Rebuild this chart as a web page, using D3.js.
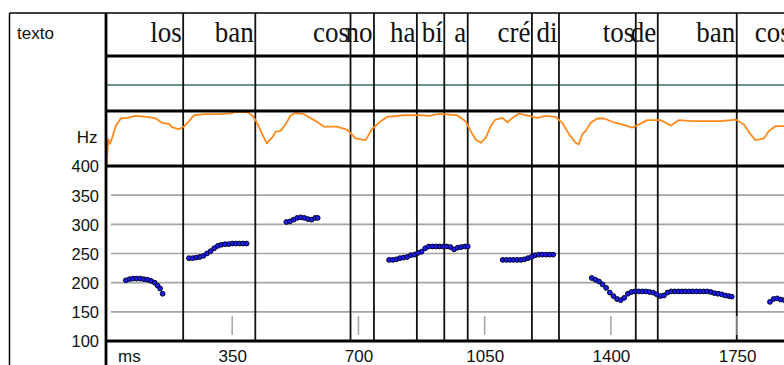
<!DOCTYPE html>
<html>
<head>
<meta charset="utf-8">
<script src="https://cdn.jsdelivr.net/npm/d3@7/dist/d3.min.js"></script>
<style>
  body { margin: 0; background: #fff; }
  svg { display: block; }
</style>
</head>
<body>
<svg id="chart" width="784" height="365"></svg>
<script>
// Syllables of the utterance and the time (ms) where each one ends
const syllables = ["los", "ban", "cos", "no", "ha", "bí", "a", "cré", "di", "tos", "de", "ban", "cos"];
const syllableEnds = [214, 414, 678, 743, 862, 938, 1003, 1181, 1256, 1469, 1530, 1749, 1903];

// Axis ticks
const hzTicks = [400, 350, 300, 250, 200, 150, 100];
const hzGrid = [350, 300, 250, 200, 150];
const msTicks = [350, 700, 1050, 1400, 1750];

// Intensity contour (relative level, 0-100)
const intensityMs = [2, 6, 11, 17, 27, 41, 58, 82, 114, 138, 155, 175, 183, 202, 216, 230, 244, 272, 318, 349,
  355, 391, 405, 419, 433, 446, 460, 470, 484, 498, 512, 526, 549, 577, 604, 641, 669, 692, 720, 738,
  762, 780, 826, 873, 896, 919, 937, 974, 997, 1011, 1025, 1039, 1053, 1067, 1080, 1099, 1113, 1127, 1145, 1164,
  1196, 1219, 1247, 1265, 1284, 1302, 1311, 1321, 1330, 1344, 1362, 1381, 1408, 1431, 1459, 1478, 1501, 1538, 1566, 1589,
  1625, 1704, 1746, 1769, 1787, 1801, 1824, 1838, 1857, 1880];
const intensityLevel = [3, 50, 41, 52, 74, 88, 89, 93, 91, 88, 80, 78, 72, 68, 73, 83, 94, 96, 96, 98,
  100, 100, 94, 80, 59, 42, 52, 63, 65, 77, 94, 98, 96, 85, 73, 73, 67, 51, 48, 69,
  83, 91, 94, 94, 93, 96, 96, 94, 83, 65, 49, 43, 52, 74, 86, 89, 81, 89, 97, 94,
  89, 93, 91, 80, 59, 43, 40, 59, 65, 80, 88, 88, 81, 77, 71, 77, 85, 85, 75, 85,
  83, 83, 86, 77, 59, 48, 51, 65, 74, 74];

// F0 measurements (Hz), one run per voiced stretch
const f0Ms1 = [55, 65, 75, 85, 95, 105, 115, 125, 135, 143, 150, 157];
const f0Hz1 = [204, 206, 207, 207, 207, 206, 205, 203, 200, 195, 190, 181];
const f0Ms2 = [230, 240, 250, 260, 270, 280, 290, 300, 310, 320, 330, 340, 350, 360, 370, 380, 390];
const f0Hz2 = [242, 242, 243, 244, 246, 250, 254, 259, 263, 265, 266, 266, 267, 267, 267, 267, 267];
const f0Ms3 = [500, 510, 520, 530, 540, 550, 560, 570, 580, 587];
const f0Hz3 = [304, 305, 308, 311, 312, 311, 309, 308, 311, 311];
const f0Ms4 = [785, 795, 805, 815, 825, 835, 845, 855, 865, 875, 885, 895, 905, 915, 925, 935, 945, 955, 965, 975, 985, 995, 1003];
const f0Hz4 = [239, 239, 240, 242, 243, 244, 247, 248, 251, 253, 259, 262, 262, 262, 262, 262, 262, 261, 257, 260, 261, 262, 262];
const f0Ms5 = [1100, 1110, 1120, 1130, 1140, 1150, 1160, 1170, 1180, 1190, 1200, 1210, 1220, 1230, 1240];
const f0Hz5 = [239, 239, 239, 239, 239, 239, 240, 242, 244, 247, 248, 248, 248, 248, 248];
const f0Ms6 = [1347, 1357, 1367, 1377, 1387, 1397, 1407, 1417, 1427, 1437, 1447, 1457, 1467, 1477, 1487, 1497, 1507, 1517, 1527, 1537,
  1547, 1557, 1567, 1577, 1587, 1597, 1607, 1617, 1627, 1637, 1647, 1657, 1667, 1677, 1687, 1697, 1707, 1717, 1727, 1735];
const f0Hz6 = [208, 205, 202, 197, 191, 183, 177, 172, 170, 174, 181, 184, 185, 185, 185, 185, 184, 183, 180, 177,
  178, 183, 185, 185, 185, 185, 185, 185, 185, 185, 185, 185, 185, 184, 182, 181, 180, 178, 177, 176];
const f0Ms7 = [1841, 1851, 1861, 1871, 1881, 1891];
const f0Hz7 = [167, 172, 173, 171, 170, 171];

const f0Runs = [[f0Ms1, f0Hz1], [f0Ms2, f0Hz2], [f0Ms3, f0Hz3], [f0Ms4, f0Hz4], [f0Ms5, f0Hz5], [f0Ms6, f0Hz6], [f0Ms7, f0Hz7]];

// Layout
const W = 784, H = 365;
const frameLeft = 9.5, frameTop = 13;
const panelLeft = 106;
const rowText = [frameTop, 56];
const rowTier = [56, 111];
const rowInt = [111, 166];
const rowF0 = [166, 341];

const svg = d3.select("#chart");

const x = d3.scaleLinear().domain([0, 1880]).range([panelLeft, W]);
const y = d3.scaleLinear().domain([100, 400]).range([rowF0[1], rowF0[0]]);
const yInt = d3.scaleLinear().domain([0, 100]).range([rowInt[1], 112]);

svg.append("rect").attr("width", W).attr("height", H).attr("fill", "#ffffff");

// Horizontal grid of the F0 panel
svg.append("g").selectAll("line").data(hzGrid).join("line")
  .attr("x1", 111).attr("x2", W)
  .attr("y1", d => y(d)).attr("y2", d => y(d))
  .attr("stroke", "#a4a4a4").attr("stroke-width", 1.6);

// Tier reference line
svg.append("line")
  .attr("x1", panelLeft).attr("x2", W).attr("y1", 85).attr("y2", 85)
  .attr("stroke", "#3a6f6e").attr("stroke-width", 1.6);

// Syllable boundaries
svg.append("g").selectAll("line").data(syllableEnds.filter(d => x(d) < W)).join("line")
  .attr("x1", d => x(d)).attr("x2", d => x(d))
  .attr("y1", frameTop).attr("y2", rowF0[1])
  .attr("stroke", "#111").attr("stroke-width", 1.8);

// Time marks inside the F0 panel
svg.append("g").selectAll("line").data(msTicks).join("line")
  .attr("x1", d => x(d)).attr("x2", d => x(d))
  .attr("y1", 316).attr("y2", 335)
  .attr("stroke", "#a8a8a8").attr("stroke-width", 1.6);

// Intensity contour
const intensityLine = d3.line()
  .x((d, i) => x(intensityMs[i]))
  .y(d => yInt(d));
svg.append("path")
  .attr("d", intensityLine(intensityLevel))
  .attr("fill", "none")
  .attr("stroke", "#ff8a1c")
  .attr("stroke-width", 1.8)
  .attr("stroke-linejoin", "round");

// F0 points
const f0Layer = svg.append("g");
f0Runs.forEach(([ms, hz]) => {
  f0Layer.append("g").selectAll("circle").data(hz).join("circle")
    .attr("cx", (d, i) => x(ms[i]))
    .attr("cy", d => y(d))
    .attr("r", 2.4)
    .attr("fill", "#1c1cf0")
    .attr("stroke", "#00002e")
    .attr("stroke-width", 1);
});

// Frame: outer border and panel separators
svg.append("line").attr("x1", frameLeft).attr("x2", W).attr("y1", frameTop).attr("y2", frameTop)
  .attr("stroke", "#000").attr("stroke-width", 1.5);
svg.append("line").attr("x1", frameLeft).attr("x2", frameLeft).attr("y1", frameTop).attr("y2", H)
  .attr("stroke", "#000").attr("stroke-width", 1.5);
svg.append("line").attr("x1", panelLeft).attr("x2", panelLeft).attr("y1", frameTop).attr("y2", H)
  .attr("stroke", "#000").attr("stroke-width", 2.8);
svg.append("g").selectAll("line").data([rowText[1], rowTier[1], rowInt[1], rowF0[1]]).join("line")
  .attr("x1", panelLeft).attr("x2", W)
  .attr("y1", d => d).attr("y2", d => d)
  .attr("stroke", "#000").attr("stroke-width", 2.8);

// Syllable text
svg.append("g").selectAll("text").data(syllables).join("text")
  .attr("transform", (d, i) => `translate(${x(syllableEnds[i]) - 1.5},42.3) scale(1,1.13)`)
  .attr("text-anchor", "end")
  .attr("font-family", "'Liberation Serif', 'DejaVu Serif', serif")
  .attr("font-size", 27)
  .attr("fill", "#111")
  .text(d => d);

// Row captions
svg.append("text").attr("x", 17).attr("y", 39.3)
  .attr("font-family", "'Liberation Sans', Arial, sans-serif").attr("font-size", 17)
  .attr("fill", "#111").text("texto");
svg.append("text").attr("x", 97.5).attr("y", 143.3).attr("text-anchor", "end")
  .attr("font-family", "'Liberation Sans', Arial, sans-serif").attr("font-size", 17)
  .attr("fill", "#111").text("Hz");

// Hz axis labels
const yAxis = svg.append("g")
  .attr("transform", `translate(99,0)`)
  .call(d3.axisLeft(y).tickValues(hzTicks).tickSize(0).tickPadding(0));
yAxis.select(".domain").remove();
yAxis.selectAll("text")
  .attr("x", 0).attr("dy", "0.36em")
  .attr("font-family", "'Liberation Sans', Arial, sans-serif").attr("font-size", 16.5)
  .attr("fill", "#111");

// ms axis labels
const xAxis = svg.append("g")
  .attr("transform", `translate(0,361.5)`)
  .call(d3.axisBottom(x).tickValues(msTicks).tickFormat(d3.format("d")).tickSize(0));
xAxis.select(".domain").remove();
xAxis.selectAll("text")
  .attr("y", 0).attr("dy", 0)
  .attr("font-family", "'Liberation Sans', Arial, sans-serif").attr("font-size", 17)
  .attr("fill", "#111");
svg.append("text").attr("x", 118).attr("y", 361.5)
  .attr("font-family", "'Liberation Sans', Arial, sans-serif").attr("font-size", 17)
  .attr("fill", "#111").text("ms");
</script>
</body>
</html>
